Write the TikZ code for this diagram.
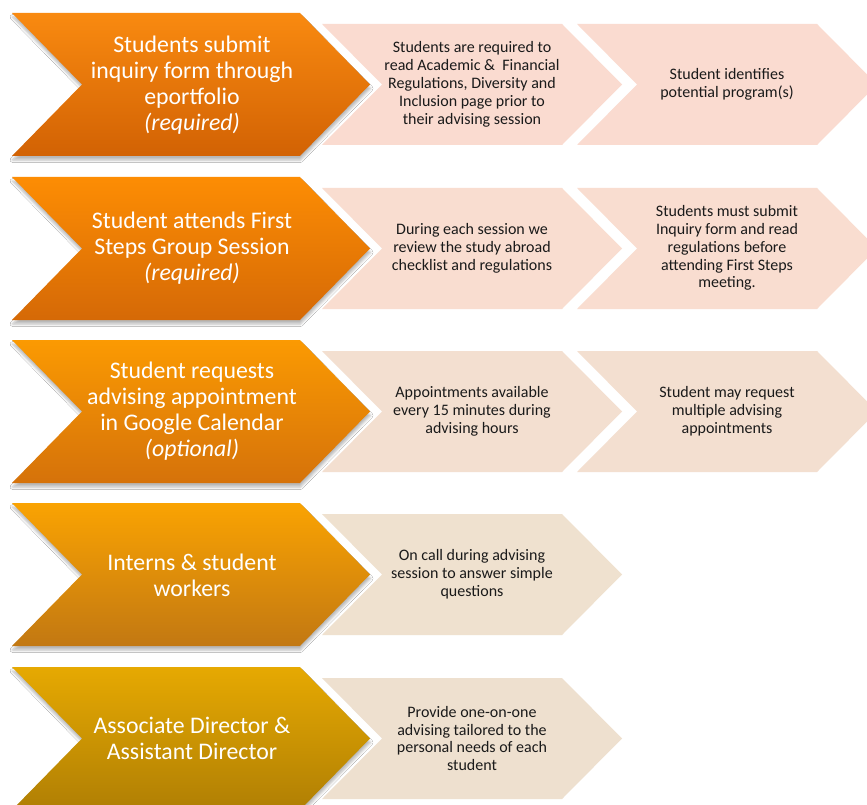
\documentclass[tikz,border=0pt]{standalone}
\usepackage{fontspec}
\setmainfont{Carlito}
\usetikzlibrary{shadows,shadows.blur}
\definecolor{oA1}{HTML}{F98A10}\definecolor{oA2}{HTML}{D26204}
\definecolor{oB1}{HTML}{FD8D04}\definecolor{oB2}{HTML}{D56906}
\definecolor{oC1}{HTML}{FB9A02}\definecolor{oC2}{HTML}{D5720A}
\definecolor{oD1}{HTML}{FAA302}\definecolor{oD2}{HTML}{C27812}
\definecolor{oE1}{HTML}{E6A902}\definecolor{oE2}{HTML}{B07F04}
\definecolor{pA}{HTML}{FADBD0}\definecolor{pB}{HTML}{F9DDD0}
\definecolor{pC}{HTML}{F3DFD0}\definecolor{pD}{HTML}{EFE1CF}
\definecolor{pE}{HTML}{EEE0CF}
\definecolor{txtdark}{HTML}{1A1A1A}
\newcommand\chevshape[6]{%
  \path[#6] (#1,#2) -- ++(#3,0) -- ++(#5,#4/2) -- ++(-#5,#4/2) -- ++(-#3,0) -- ++(#5,-#4/2) -- cycle;}
\tikzset{
  bigtext/.style={text=white, font=\fontsize{23.8}{26}\selectfont, align=center, inner sep=0pt},
  smalltext/.style={text=txtdark, font=\fontsize{16}{17.9}\selectfont, align=center, inner sep=0pt},
  bigchev/.style 2 args={top color=#1, bottom color=#2, blur shadow={shadow xshift=0.5pt, shadow yshift=-4pt, shadow blur radius=2.5pt, shadow opacity=28}},
  smallchev/.style={fill=#1},
}
\begin{document}
\begin{tikzpicture}[x=1pt,y=-1pt]
\useasboundingbox[fill=white] (0,0) rectangle (867,805);
% row 1
\chevshape{322}{24}{240}{121}{60}{smallchev=pA}
\chevshape{577}{24}{240}{121}{60}{smallchev=pA}
\chevshape{12}{13}{288}{143}{70}{bigchev={oA1}{oA2}}
% row 2
\chevshape{322}{188}{240}{121}{60}{smallchev=pB}
\chevshape{577}{188}{240}{121}{60}{smallchev=pB}
\chevshape{12}{177}{288}{143}{70}{bigchev={oB1}{oB2}}
% row 3
\chevshape{322}{351}{240}{121}{60}{smallchev=pC}
\chevshape{577}{351}{240}{121}{60}{smallchev=pC}
\chevshape{12}{340}{288}{143}{70}{bigchev={oC1}{oC2}}
% row 4
\chevshape{322}{514}{240}{121}{60}{smallchev=pD}
\chevshape{12}{503}{288}{143}{70}{bigchev={oD1}{oD2}}
% row 5
\chevshape{322}{678}{240}{121}{60}{smallchev=pE}
\chevshape{12}{667}{288}{143}{70}{bigchev={oE1}{oE2}}

\node[bigtext] (b1) at (192,85) {Students submit\\inquiry form through\\eportfolio\\\textit{(required)}};
\node[bigtext] (b2) at (192,248) {Student attends First\\Steps Group Session\\\textit{(required)}};
\node[bigtext] (b3) at (192,411.5) {Student requests\\advising appointment\\in Google Calendar\\\textit{(optional)}};
\node[bigtext] (b4) at (192,575) {Interns \& student\\workers};
\node[bigtext] (b5) at (192,738) {Associate Director \&\\Assistant Director};

\node[smalltext] (s11) at (472,84.5) {Students are required to\\read Academic \&\ \ Financial\\Regulations, Diversity and\\Inclusion page prior to\\their advising session};
\node[smalltext] (s12) at (727,84.5) {Student identifies\\potential program(s)};
\node[smalltext] (s21) at (472,248) {During each session we\\review the study abroad\\checklist and regulations};
\node[smalltext] (s22) at (727,248) {Students must submit\\Inquiry form and read\\regulations before\\attending First Steps\\meeting.};
\node[smalltext] (s31) at (472,411.5) {Appointments available\\every 15 minutes during\\advising hours};
\node[smalltext] (s32) at (727,411.5) {Student may request\\multiple advising\\appointments};
\node[smalltext] (s41) at (472,574.5) {On call during advising\\session to answer simple\\questions};
\node[smalltext] (s51) at (472,738.5) {Provide one-on-one\\advising tailored to the\\personal needs of each\\student};
\end{tikzpicture}
\end{document}
